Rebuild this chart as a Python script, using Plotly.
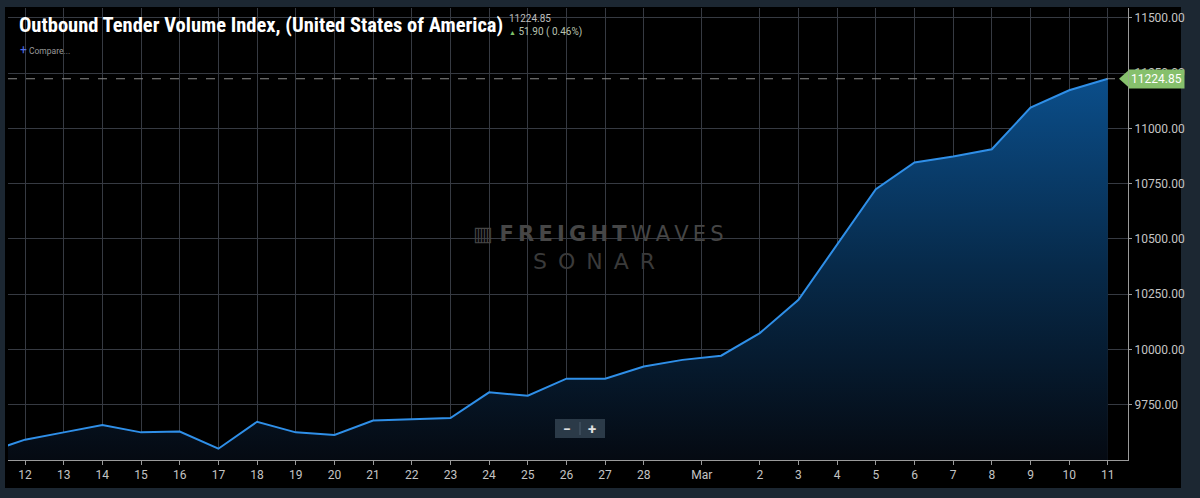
import pandas as pd
import plotly.graph_objects as go

# Outbound Tender Volume Index (USA), daily, Feb 11 - Mar 11 2020
dates = pd.date_range("2020-02-11", "2020-03-11", freq="D")
otvi = [9533, 9592, 9625, 9658, 9625, 9629, 9551, 9673, 9625, 9613,
        9679, 9683, 9690, 9806, 9791, 9868, 9868, 9923, 9953, 9972,
        10074, 10225, 10474, 10725, 10846, 10873, 10906, 11094, 11172.95, 11224.85]

tick_labels = ["12", "13", "14", "15", "16", "17", "18", "19", "20", "21", "22",
               "23", "24", "25", "26", "27", "28", "Mar", "2", "3", "4", "5",
               "6", "7", "8", "9", "10", "11"]
tick_dates = ["2020-02-12", "2020-02-13", "2020-02-14", "2020-02-15", "2020-02-16",
              "2020-02-17", "2020-02-18", "2020-02-19", "2020-02-20", "2020-02-21",
              "2020-02-22", "2020-02-23", "2020-02-24", "2020-02-25", "2020-02-26",
              "2020-02-27", "2020-02-28", "2020-02-29 12:00", "2020-03-02", "2020-03-03",
              "2020-03-04", "2020-03-05", "2020-03-06", "2020-03-07", "2020-03-08",
              "2020-03-09", "2020-03-10", "2020-03-11"]
y_ticks = [9750, 10000, 10250, 10500, 10750, 11000, 11250, 11500]

last_value = otvi[-1]
change = 51.90
change_pct = 0.46

title = "Outbound Tender Volume Index, (United States of America)"

# pixel -> paper helpers (plot area is 8..1128 x 8..460)
def px(x):
    return (x - 8) / 1120

def py(y):
    return (460 - y) / 452

fig = go.Figure()
fig.add_trace(go.Scatter(
    x=dates, y=otvi,
    mode="lines",
    line=dict(color="#2f8fe8", width=2),
    fill="tozeroy",
    fillgradient=dict(type="vertical",
                      colorscale=[[0, "#050a12"], [0.5, "#072a4a"], [1, "#0b4f8c"]],
                      start=9500, stop=11250),
    hoverinfo="skip",
    showlegend=False,
))

grid = "#363a42"
fig.update_xaxes(
    type="date",
    range=["2020-02-11 13:26", "2020-03-11 12:30"],
    tickvals=tick_dates, ticktext=tick_labels,
    showgrid=True, gridcolor=grid, gridwidth=1,
    showline=True, linecolor="#9a9a9a", linewidth=1,
    ticks="outside", ticklen=4, tickcolor="#9a9a9a",
    tickfont=dict(family="Roboto", size=12, color="#c4c4c4"),
    zeroline=False,
)
fig.update_yaxes(
    side="right",
    range=[9500, 11545],
    tickvals=y_ticks, tickformat=".2f",
    showgrid=True, gridcolor=grid, gridwidth=1,
    showline=True, linecolor="#9a9a9a", linewidth=1,
    ticks="outside", ticklen=3, tickcolor="#9a9a9a",
    tickfont=dict(family="Roboto", size=12, color="#c4c4c4"),
    zeroline=False,
)

shapes = [
    # black chart panel inside the dark frame
    dict(type="rect", xref="paper", yref="paper", x0=px(5), x1=px(1181), y0=py(488), y1=py(7),
         fillcolor="#000000", line=dict(width=0), layer="below"),
    # last value dashed line
    dict(type="line", xref="paper", yref="y", x0=0, x1=1, y0=last_value, y1=last_value,
         line=dict(color="#8a8a8a", width=1, dash="dash")),
    # tip of price tag
    dict(type="path", xref="paper", yref="y",
         path=f"M {px(1119)},{last_value} L {px(1128)},{last_value + 36} "
              f"L {px(1128)},{last_value - 36} Z",
         fillcolor="#86c06c", line=dict(width=0)),
    # zoom buttons box
    dict(type="rect", xref="paper", yref="paper", x0=px(555), x1=px(605), y0=py(438), y1=py(419),
         fillcolor="#2b3a48", line=dict(width=0)),
    dict(type="line", xref="paper", yref="paper", x0=px(580), x1=px(580), y0=py(435), y1=py(422),
         line=dict(color="#4a5a6a", width=1)),
]

annotations = [
    dict(text=f"<b>{title}</b>", xref="paper", yref="paper", x=px(17), y=py(25),
         xanchor="left", yanchor="middle", showarrow=False,
         font=dict(family="Liberation Sans Narrow, Roboto Condensed, Roboto", size=20.5, color="#ffffff")),
    dict(text=f"{last_value:.2f}", xref="paper", yref="paper", x=px(507), y=py(19),
         xanchor="left", yanchor="middle", showarrow=False,
         font=dict(family="Roboto", size=10, color="#bdbdbd")),
    dict(text=f"<span style='color:#7fc46a;font-size:7px'>▲</span> {change:.2f} ( {change_pct:.2f}%)",
         xref="paper", yref="paper", x=px(507), y=py(32),
         xanchor="left", yanchor="middle", showarrow=False,
         font=dict(family="Roboto", size=10, color="#b8c2b0")),
    dict(text="<span style='color:#4f6fe8;font-size:12px'>+</span> Compare...", xref="paper", yref="paper",
         x=px(18), y=py(50), xanchor="left", yanchor="middle", showarrow=False,
         font=dict(family="Roboto", size=8.5, color="#9a9a9a")),
    # watermark
    dict(text="▥ <b>F\u2009R\u2009E\u2009I\u2009G\u2009H\u2009T</b>\u2009W\u2009A\u2009V\u2009E\u2009S",
         xref="paper", yref="paper", x=px(598), y=py(234), xanchor="center", yanchor="middle",
         showarrow=False, font=dict(family="DejaVu Sans", size=21, color="#464646")),
    dict(text="S\u2002O\u2002N\u2002A\u2002R", xref="paper", yref="paper", x=px(594), y=py(261),
         xanchor="center", yanchor="middle", showarrow=False,
         font=dict(family="DejaVu Sans", size=22, color="#3a3a3a")),
    # zoom buttons
    dict(text="<b>−</b>", xref="paper", yref="paper", x=px(567), y=py(429),
         xanchor="center", yanchor="middle", showarrow=False,
         font=dict(family="Roboto", size=14, color="#e0e0e0")),
    dict(text="<b>+</b>", xref="paper", yref="paper", x=px(592), y=py(429),
         xanchor="center", yanchor="middle", showarrow=False,
         font=dict(family="Roboto", size=15, color="#e0e0e0")),
    # price tag
    dict(text=f"{last_value:.2f}", xref="paper", yref="y", x=px(1128), y=last_value,
         xanchor="left", yanchor="middle", showarrow=False, bgcolor="#86c06c", borderpad=2,
         font=dict(family="Roboto", size=12, color="#ffffff")),
]

fig.update_layout(
    width=1200, height=498,
    margin=dict(l=8, r=72, t=8, b=38),
    paper_bgcolor="#1c2732",
    plot_bgcolor="#000000",
    shapes=shapes,
    annotations=annotations,
    showlegend=False,
)

fig.write_html("out.html", config={"displayModeBar": False},
               post_script="document.body.style.margin='0';")
